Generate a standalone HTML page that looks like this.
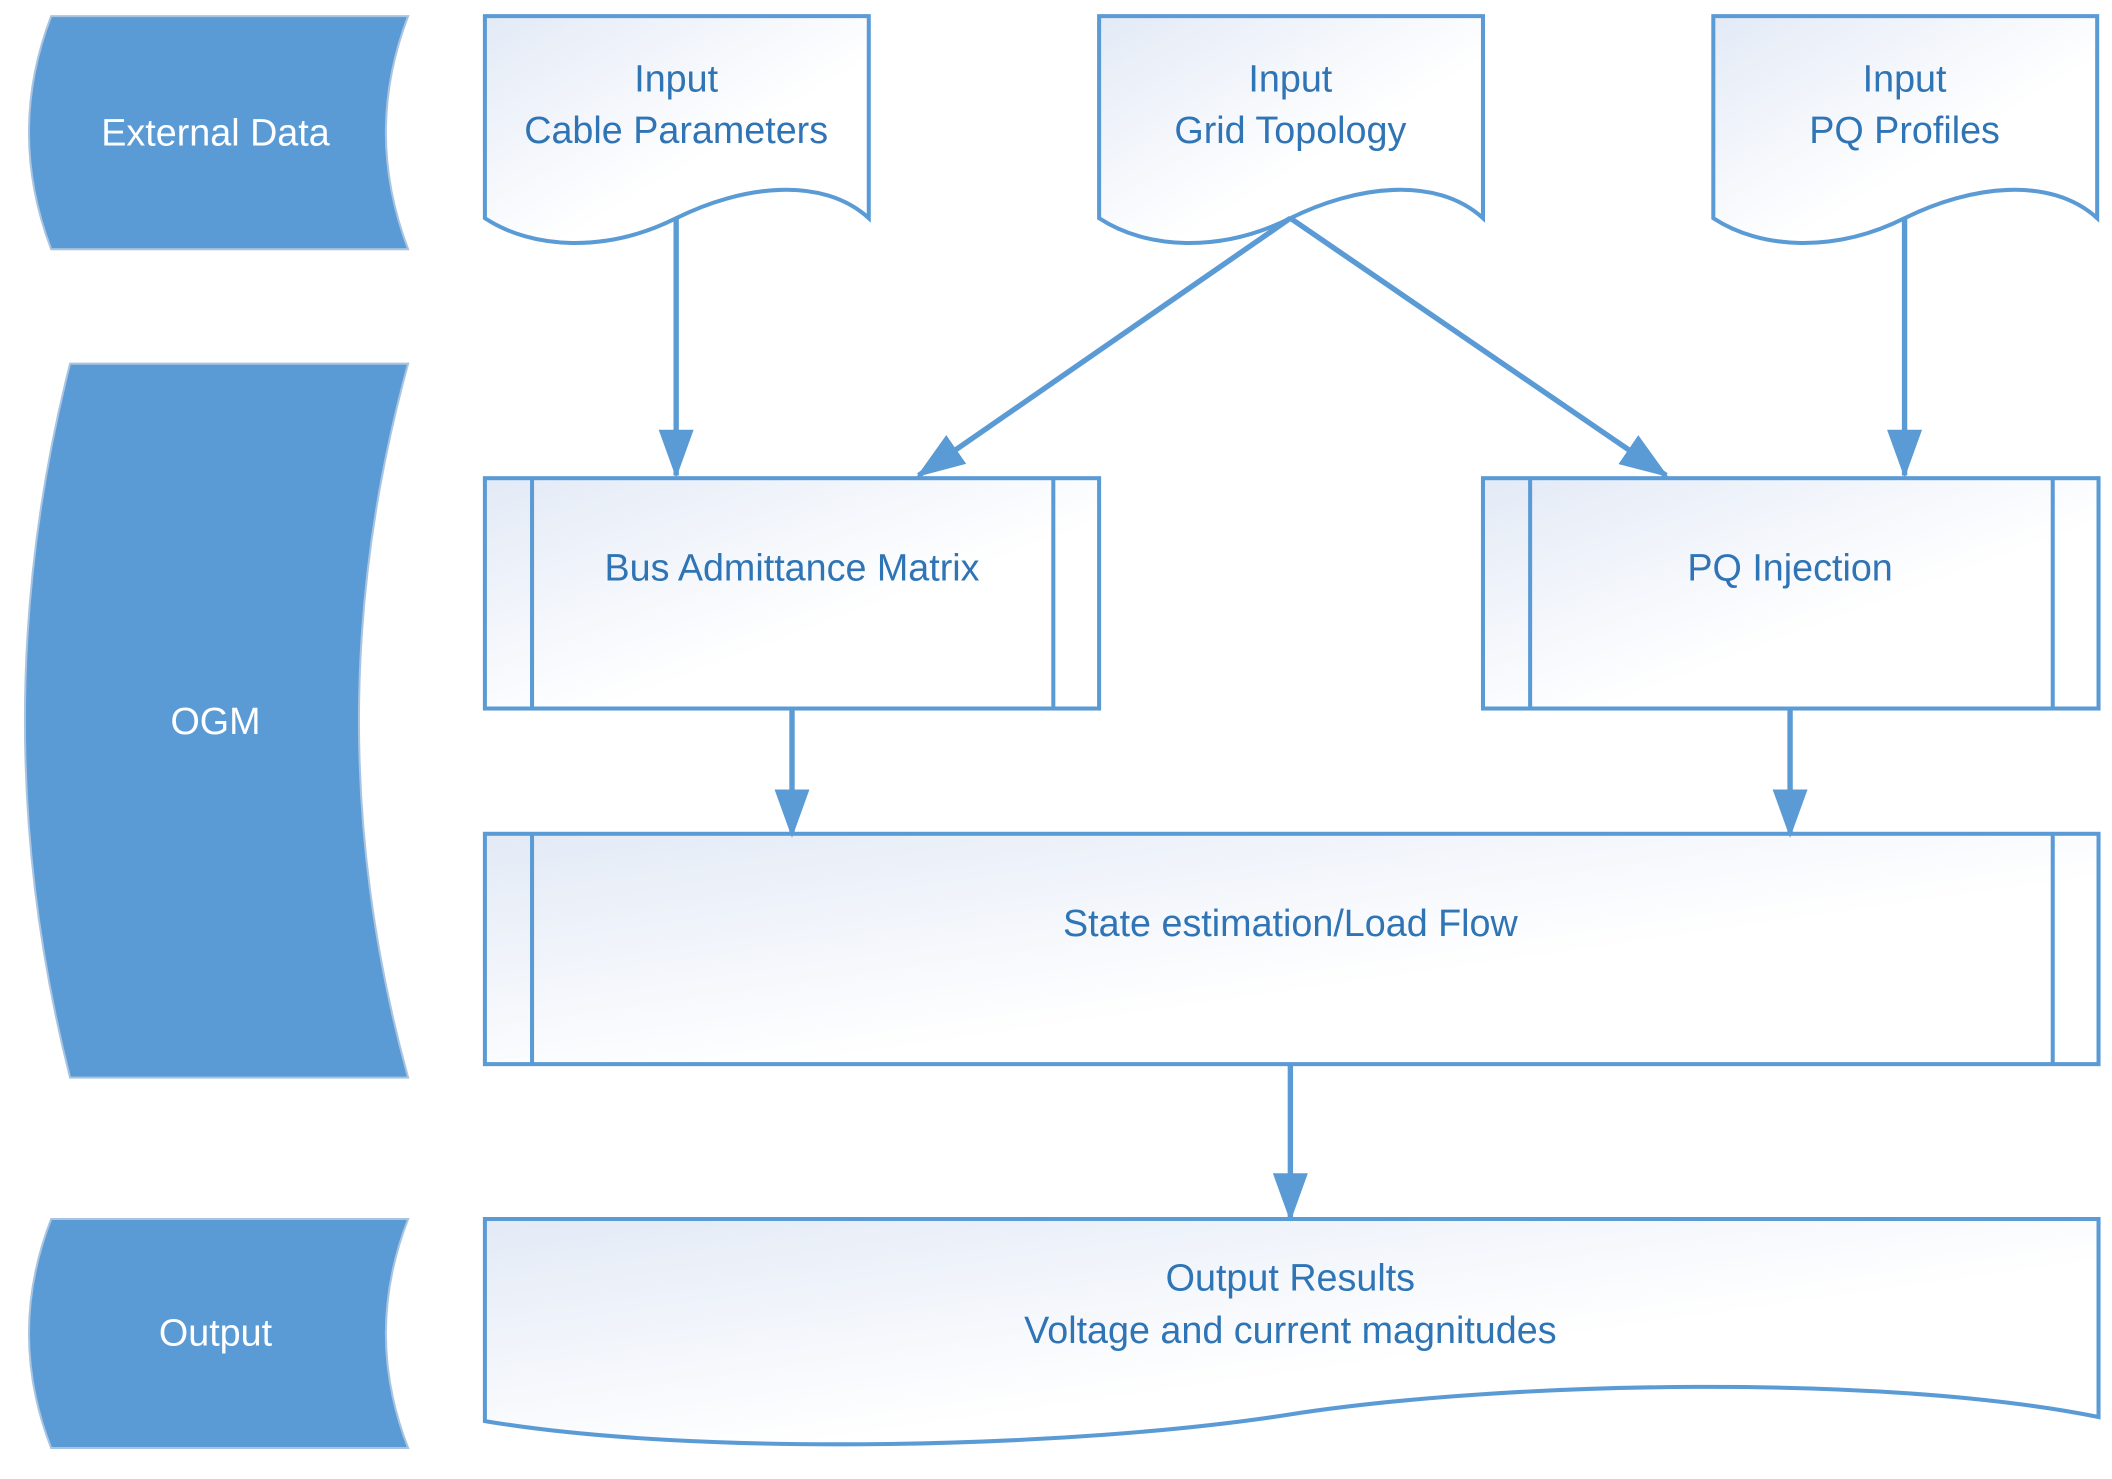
<!DOCTYPE html>
<html><head><meta charset="utf-8"><style>
html,body{margin:0;padding:0;background:#fff;}
svg{display:block;}
text{font-family:"Liberation Sans",sans-serif;font-size:28px;fill:#2f74b5;text-anchor:middle;}
.lane{fill:#5b9bd5;stroke:#a9c4e0;stroke-width:1.5;}
.lane-t{fill:#fff;}
.box{fill:url(#g);stroke:#5b9bd5;stroke-width:3;}
.ln{stroke:#5b9bd5;stroke-width:3;fill:none;}
.ar{stroke:#5b9bd5;stroke-width:4;fill:none;marker-end:url(#m);}
</style></head><body>
<svg width="2112" height="1479" viewBox="0 0 1568 1098" preserveAspectRatio="none" xmlns="http://www.w3.org/2000/svg">
<defs>
<linearGradient id="g" x1="0" y1="0" x2="1" y2="1">
<stop offset="0" stop-color="#e3eaf6"/><stop offset="0.6" stop-color="#ffffff"/><stop offset="1" stop-color="#ffffff"/>
</linearGradient>
<marker id="m" markerWidth="36" markerHeight="26" refX="34" refY="13" orient="auto" markerUnits="userSpaceOnUse" viewBox="0 0 36 26">
<path d="M0,0 L36,13 L0,26 Z" fill="#5b9bd5"/>
</marker>
</defs>
<path class="lane" d="M38,12 H303 Q270,98 303,185 H38 Q5,98 38,12 Z"/>
<text class="lane-t" x="160" y="108">External Data</text>
<path class="lane" d="M52,270 H303 Q230,535 303,800 H52 Q-15,535 52,270 Z"/>
<text class="lane-t" x="160" y="545">OGM</text>
<path class="lane" d="M38,905 H303 Q270,990 303,1075 H38 Q5,990 38,905 Z"/>
<text class="lane-t" x="160" y="999">Output</text>

<path class="box" d="M360,12 H645 V162 C610,130 550,138 502,162 C450,188 395,185 360,162 Z"/>
<text x="502" y="68">Input</text><text x="502" y="106">Cable Parameters</text>
<path class="box" d="M816,12 H1101 V162 C1066,130 1006,138 958,162 C906,188 851,185 816,162 Z"/>
<text x="958" y="68">Input</text><text x="958" y="106">Grid Topology</text>
<path class="box" d="M1272,12 H1557 V162 C1522,130 1462,138 1414,162 C1362,188 1307,185 1272,162 Z"/>
<text x="1414" y="68">Input</text><text x="1414" y="106">PQ Profiles</text>

<rect class="box" x="360" y="355" width="456" height="171"/>
<line class="ln" x1="395" y1="355" x2="395" y2="526"/><line class="ln" x1="782" y1="355" x2="782" y2="526"/>
<text x="588" y="431">Bus Admittance Matrix</text>
<rect class="box" x="1101" y="355" width="457" height="171"/>
<line class="ln" x1="1136" y1="355" x2="1136" y2="526"/><line class="ln" x1="1524" y1="355" x2="1524" y2="526"/>
<text x="1329" y="431">PQ Injection</text>
<rect class="box" x="360" y="619" width="1198" height="171"/>
<line class="ln" x1="395" y1="619" x2="395" y2="790"/><line class="ln" x1="1524" y1="619" x2="1524" y2="790"/>
<text x="958" y="695">State estimation/Load Flow</text>

<path class="box" d="M360,905 H1558 V1052 C1400,1020 1120,1025 958,1050 C800,1075 520,1082 360,1055 Z"/>
<text x="958" y="958">Output Results</text><text x="958" y="997">Voltage and current magnitudes</text>

<line class="ar" x1="502" y1="162" x2="502" y2="353"/>
<line class="ar" x1="958" y1="162" x2="682" y2="353"/>
<line class="ar" x1="958" y1="162" x2="1237" y2="353"/>
<line class="ar" x1="1414" y1="162" x2="1414" y2="353"/>
<line class="ar" x1="588" y1="526" x2="588" y2="620"/>
<line class="ar" x1="1329" y1="526" x2="1329" y2="620"/>
<line class="ar" x1="958" y1="790" x2="958" y2="905"/>
</svg>
</body></html>
